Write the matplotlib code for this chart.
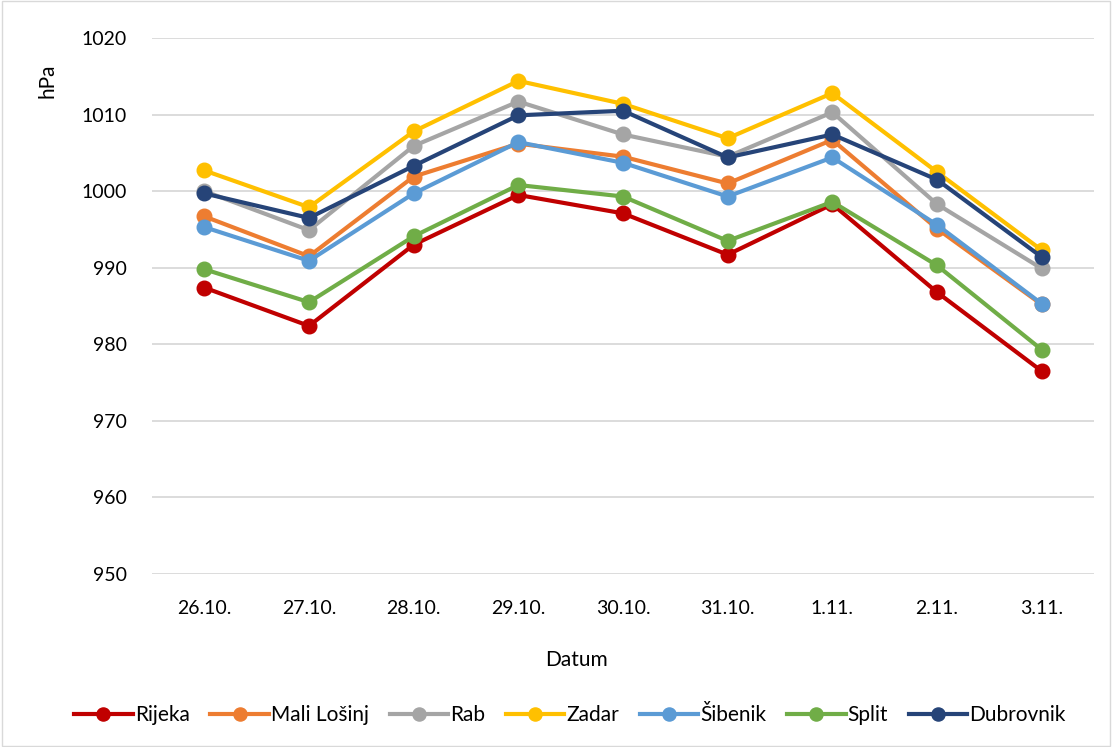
import matplotlib.pyplot as plt
from matplotlib.patches import Rectangle

# dates (x categories)
dates = ['26.10.', '27.10.', '28.10.', '29.10.', '30.10.', '31.10.', '1.11.', '2.11.', '3.11.']

# pressure in hPa
rijeka = [987.4, 982.4, 993.0, 999.5, 997.1, 991.7, 998.3, 986.8, 976.5]
mali_losinj = [996.7, 991.5, 1001.9, 1006.2, 1004.5, 1001.0, 1006.7, 995.1, 985.2]
rab = [1000.0, 994.9, 1005.9, 1011.7, 1007.4, 1004.5, 1010.3, 998.3, 989.9]
zadar = [1002.7, 997.9, 1007.8, 1014.4, 1011.4, 1006.9, 1012.8, 1002.5, 992.3]
sibenik = [995.3, 990.9, 999.7, 1006.4, 1003.7, 999.3, 1004.4, 995.6, 985.3]
split = [989.8, 985.5, 994.1, 1000.8, 999.3, 993.5, 998.6, 990.3, 979.3]
dubrovnik = [999.7, 996.5, 1003.3, 1009.9, 1010.5, 1004.4, 1007.4, 1001.5, 991.4]

names = ['Rijeka', 'Mali Lošinj', 'Rab', 'Zadar', 'Šibenik', 'Split', 'Dubrovnik']
colors = ['#C00000', '#ED7D31', '#A5A5A5', '#FFC000', '#5B9BD5', '#70AD47', '#264478']
series = [rijeka, mali_losinj, rab, zadar, sibenik, split, dubrovnik]

plt.rcParams['font.family'] = ['Lato', 'DejaVu Sans']

fig = plt.figure(figsize=(11.12, 7.47), dpi=100)
ax = fig.add_axes([152 / 1112, 173 / 747, 942 / 1112, 536 / 747])

x = list(range(len(dates)))
for name, col, vals in zip(names, colors, series):
    ax.plot(x, vals, color=col, lw=3.0, marker='o', markersize=10.5, label=name, zorder=3)

ax.set_xlim(-0.5, 8.5)
ax.set_ylim(950, 1020)
ax.set_yticks(range(950, 1021, 10))
ax.set_xticks(x)
ax.set_xticklabels(dates)
ax.grid(axis='y', color='#d9d9d9', lw=1.3)
ax.set_axisbelow(True)
for s in ax.spines.values():
    s.set_visible(False)
ax.tick_params(axis='both', length=0, labelsize=14, colors='#000000')
ax.tick_params(axis='y', pad=18)
ax.tick_params(axis='x', pad=19)

ax.set_ylabel('hPa', fontsize=15)
ax.yaxis.set_label_coords(-0.1, 0.92)
ax.set_xlabel('Datum', fontsize=15)
ax.xaxis.set_label_coords(0.451, -0.142)

fig.legend(loc='center', bbox_to_anchor=(570 / 1112, 1 - 715 / 747), ncol=7, frameon=False,
           fontsize=15, handlelength=2.8, handletextpad=0.1, columnspacing=1.0, markerscale=0.9)

fig.patches.append(Rectangle((0.002, 0.002), 0.996, 0.996, transform=fig.transFigure,
                             fill=False, edgecolor='#d9d9d9', lw=1))

fig.savefig('out.png', dpi=100)
